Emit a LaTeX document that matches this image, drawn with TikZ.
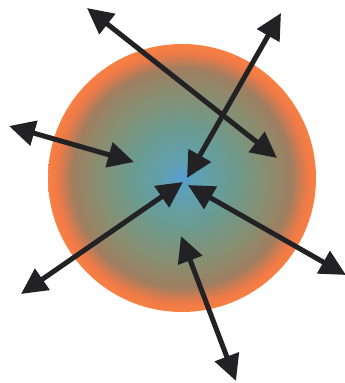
\documentclass[tikz,border=0pt]{standalone}
\usetikzlibrary{arrows.meta}
\definecolor{cblue}{RGB}{85,158,210}
\definecolor{cbt}{RGB}{96,160,178}
\definecolor{cteal}{RGB}{106,156,146}
\definecolor{colive}{RGB}{136,142,112}
\definecolor{cbrown}{RGB}{160,126,96}
\definecolor{corange}{RGB}{238,122,72}
\definecolor{corange2}{RGB}{248,128,66}
\definecolor{arrowc}{RGB}{34,34,36}
\pgfdeclareradialshading{sphere}{\pgfpoint{0bp}{0bp}}{%
color(0bp)=(cblue);
color(3bp)=(cbt);
color(9bp)=(cteal);
color(16bp)=(colive);
color(20.5bp)=(cbrown);
color(23.3bp)=(corange);
color(25bp)=(corange2);
color(50bp)=(corange2)}
\tikzset{
  dbl/.style={draw=arrowc, line width=5pt,
    {Triangle[length=26pt,width=25pt]}-{Triangle[length=26pt,width=25pt]}},
}
\begin{document}
\begin{tikzpicture}[x=1pt,y=-1pt]
\useasboundingbox (0,0) rectangle (345,383);
\shade[shading=sphere] (182,178) circle (134);
% coordinates
\coordinate (a1) at (87,8);
\coordinate (a2) at (277,158);
\coordinate (b1) at (281,13);
\coordinate (b2) at (187,178);
\coordinate (c1) at (9,126);
\coordinate (c2) at (134,162);
\coordinate (d1) at (21,294);
\coordinate (d2) at (183,182);
\coordinate (e1) at (346,275);
\coordinate (e2) at (188,185);
\coordinate (f1) at (181,236);
\coordinate (f2) at (236,381);
\draw[dbl] (a1) -- (a2);
\draw[dbl] (b1) -- (b2);
\draw[dbl] (c1) -- (c2);
\draw[dbl] (d1) -- (d2);
\draw[dbl] (e1) -- (e2);
\draw[dbl] (f1) -- (f2);
\end{tikzpicture}
\end{document}
